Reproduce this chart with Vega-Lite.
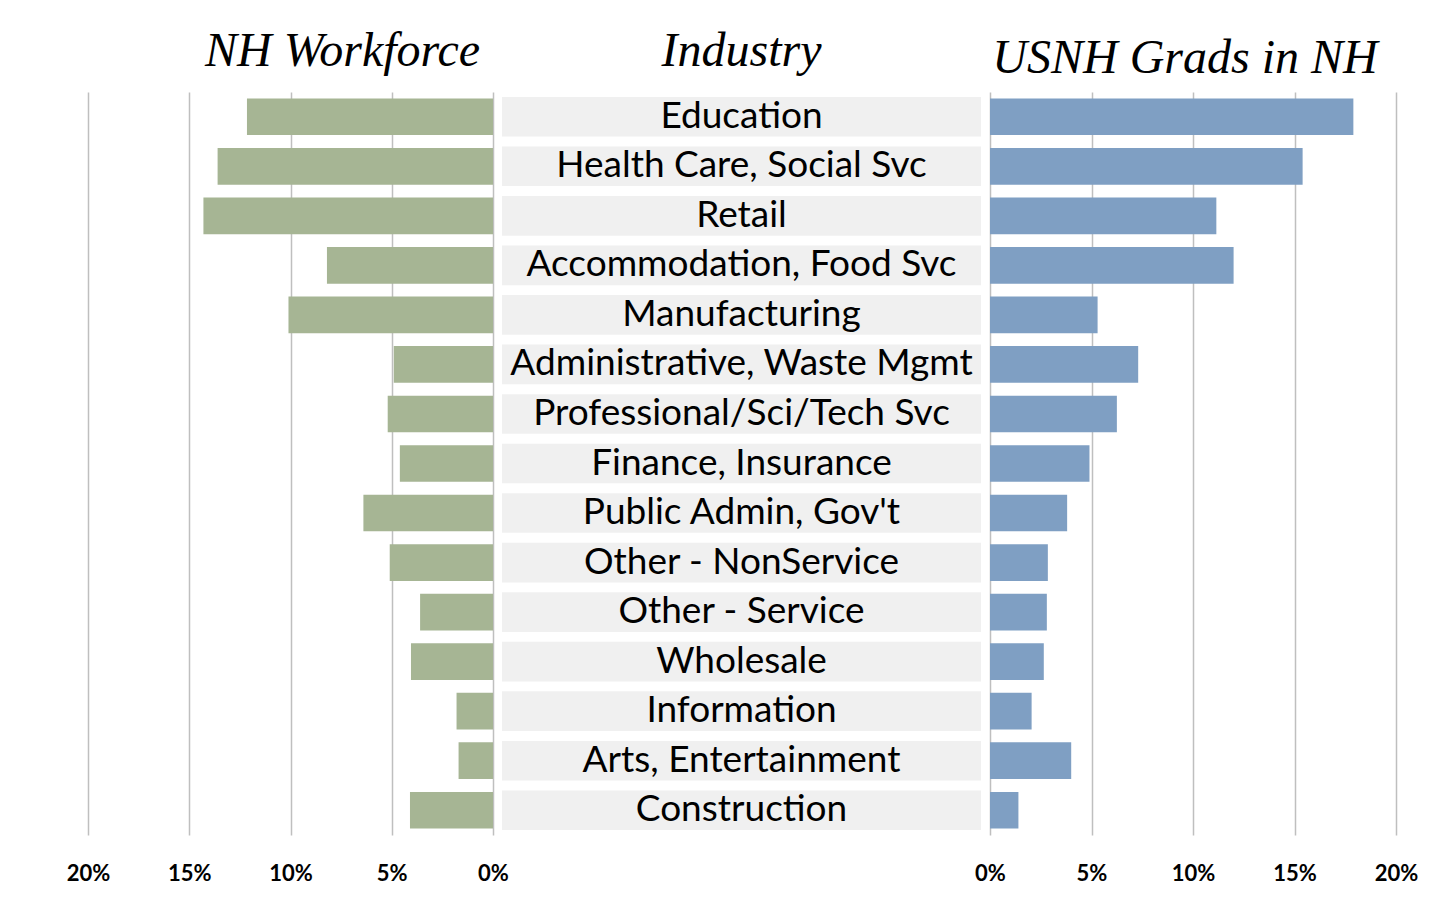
{
  "$schema": "https://vega.github.io/schema/vega-lite/v6.json",
  "padding": {"left": 66, "top": 28, "right": 0, "bottom": 0},
  "background": "white",
  "config": {"view": {"stroke": null}},
  "datasets": {
    "rows": [
      {"industry": "Education", "nh": 12.15, "usnh": 17.9},
      {"industry": "Health Care, Social Svc", "nh": 13.6, "usnh": 15.4},
      {"industry": "Retail", "nh": 14.3, "usnh": 11.15},
      {"industry": "Accommodation, Food Svc", "nh": 8.2, "usnh": 12.0},
      {"industry": "Manufacturing", "nh": 10.1, "usnh": 5.3},
      {"industry": "Administrative, Waste Mgmt", "nh": 4.9, "usnh": 7.3},
      {"industry": "Professional/Sci/Tech Svc", "nh": 5.2, "usnh": 6.25},
      {"industry": "Finance, Insurance", "nh": 4.6, "usnh": 4.9},
      {"industry": "Public Admin, Gov't", "nh": 6.4, "usnh": 3.8},
      {"industry": "Other - NonService", "nh": 5.1, "usnh": 2.85},
      {"industry": "Other - Service", "nh": 3.6, "usnh": 2.8},
      {"industry": "Wholesale", "nh": 4.05, "usnh": 2.65},
      {"industry": "Information", "nh": 1.8, "usnh": 2.05},
      {"industry": "Arts, Entertainment", "nh": 1.7, "usnh": 4.0},
      {"industry": "Construction", "nh": 4.1, "usnh": 1.4}
    ]
  },
  "spacing": 9,
  "bounds": "flush",
  "hconcat": [
    {
      "data": {"name": "rows"},
      "width": 405,
      "height": 743,
      "title": {"text": "NH Workforce", "font": "Liberation Serif", "fontStyle": "italic", "fontWeight": "normal", "fontSize": 48, "color": "black", "anchor": "middle", "dx": 52, "baseline": "alphabetic", "offset": -22},
      "mark": {"type": "bar", "color": "#A6B594"},
      "encoding": {
        "y": {"field": "industry", "type": "nominal", "sort": null, "axis": null, "scale": {"paddingInner": 0.26, "paddingOuter": 0.13}},
        "x": {
          "field": "nh", "type": "quantitative",
          "scale": {"domain": [0, 20], "reverse": true, "nice": false},
          "axis": {"values": [0, 5, 10, 15, 20], "labelExpr": "datum.value + '%'", "title": null, "grid": true, "gridColor": "#BFBFBF", "gridWidth": 1.5, "domain": false, "ticks": false, "tickSize": 0, "labelPadding": 28, "labelFlush": false, "labelFont": "Lato", "labelFontWeight": "bold", "labelFontSize": 22, "labelColor": "black"}
        }
      }
    },
    {
      "data": {"name": "rows"},
      "width": 479,
      "height": 743,
      "title": {"text": "Industry", "font": "Liberation Serif", "fontStyle": "italic", "fontWeight": "normal", "fontSize": 48, "color": "black", "anchor": "middle", "dx": 0, "baseline": "alphabetic", "offset": -22},
      "encoding": {
        "y": {"field": "industry", "type": "nominal", "sort": null, "axis": null, "scale": {"paddingInner": 0.2, "paddingOuter": 0.1}}
      },
      "layer": [
        {
          "mark": {"type": "bar", "color": "#F0F0F0"},
          "encoding": {
            "x": {"datum": 0, "type": "quantitative", "scale": {"domain": [0, 1], "nice": false}, "axis": null},
            "x2": {"datum": 1}
          }
        },
        {
          "mark": {"type": "text", "font": "Lato", "fontSize": 37, "baseline": "alphabetic", "dy": 11, "color": "black", "align": "center"},
          "encoding": {
            "x": {"datum": 0.5, "type": "quantitative"},
            "text": {"field": "industry"}
          }
        }
      ]
    },
    {
      "data": {"name": "rows"},
      "width": 406,
      "height": 743,
      "title": {"text": "USNH Grads in NH", "font": "Liberation Serif", "fontStyle": "italic", "fontWeight": "normal", "fontSize": 48, "color": "black", "anchor": "middle", "dx": -8, "baseline": "alphabetic", "offset": -29},
      "mark": {"type": "bar", "color": "#7F9FC3"},
      "encoding": {
        "y": {"field": "industry", "type": "nominal", "sort": null, "axis": null, "scale": {"paddingInner": 0.26, "paddingOuter": 0.13}},
        "x": {
          "field": "usnh", "type": "quantitative",
          "scale": {"domain": [0, 20], "nice": false},
          "axis": {"values": [0, 5, 10, 15, 20], "labelExpr": "datum.value + '%'", "title": null, "grid": true, "gridColor": "#BFBFBF", "gridWidth": 1.5, "domain": false, "ticks": false, "tickSize": 0, "labelPadding": 28, "labelFlush": false, "labelFont": "Lato", "labelFontWeight": "bold", "labelFontSize": 22, "labelColor": "black"}
        }
      }
    }
  ]
}
